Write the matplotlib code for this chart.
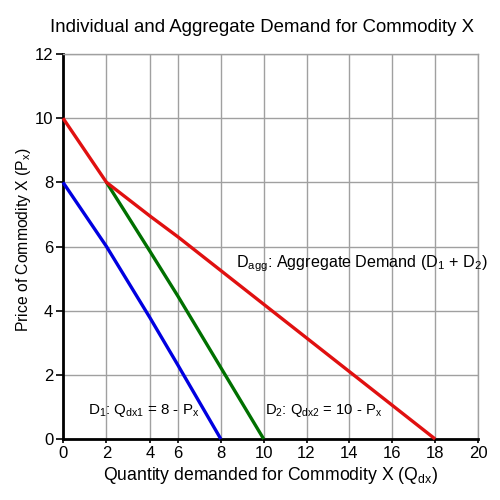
import numpy as np
import matplotlib
matplotlib.use("Agg")
import matplotlib.pyplot as plt

plt.rcParams['font.family'] = ['Liberation Sans', 'DejaVu Sans']
plt.rcParams['mathtext.default'] = 'regular'

# Data
q_d1 = [0, 2, 4, 6, 8]
p_d1 = [8, 6, 3.78, 2.3, 0]
q_d2 = [2, 4, 6, 10]
p_d2 = [8, 5.85, 4.45, 0]
q_agg = [0, 2, 4, 6, 18]
p_agg = [10, 8, 6.95, 6.3, 0]

x_ticks = [0, 2, 4, 6, 8, 10, 12, 14, 16, 18, 20]
y_ticks = [0, 2, 4, 6, 8, 10, 12]

# the original axis is not evenly spaced between 4 and 6
_xk = [0, 4, 6, 20]
_xp = [0, 4.19, 5.54, 20]
def fwd(x):
    return np.interp(x, _xk, _xp)
def inv(x):
    return np.interp(x, _xp, _xk)

fig = plt.figure(figsize=(5, 5), dpi=100)
ax = fig.add_axes([0.126, 0.122, 0.830, 0.770])
ax.set_xscale('function', functions=(fwd, inv))
ax.set_xlim(0, 20)
ax.set_ylim(0, 12)
ax.set_xticks(x_ticks)
ax.set_yticks(y_ticks)
ax.set_xticklabels([str(t) for t in x_ticks])
ax.set_yticklabels([str(t) for t in y_ticks])
ax.grid(True, color='#a0a0a0', linewidth=1.0)
ax.set_axisbelow(True)
for s in ['top', 'right']:
    ax.spines[s].set_color('#a0a0a0')
    ax.spines[s].set_linewidth(1.0)
for s in ['left', 'bottom']:
    ax.spines[s].set_color('black')
    ax.spines[s].set_linewidth(2.0)
ax.tick_params(axis='y', labelsize=12, length=5, width=1.2, color='black', pad=2)
ax.tick_params(axis='x', labelsize=12, length=3, width=1.2, color='black', pad=2)

ax.plot(q_d1, p_d1, color='#0000e0', linewidth=2.4, solid_capstyle='butt', clip_on=False, zorder=3)
ax.plot(q_d2, p_d2, color='#007000', linewidth=2.4, solid_capstyle='butt', clip_on=False, zorder=3)
ax.plot(q_agg, p_agg, color='#e01010', linewidth=2.4, solid_capstyle='butt', clip_on=False, zorder=4)

ax.text(0.417, 0.455, 'D$_{agg}$: Aggregate Demand (D$_1$ + D$_2$)', transform=ax.transAxes,
        ha='left', va='center', fontsize=11.6)
ax.text(0.060, 0.073, 'D$_1$: Q$_{dx1}$ = 8 - P$_x$', transform=ax.transAxes,
        ha='left', va='center', fontsize=10.9)
ax.text(0.486, 0.073, 'D$_2$: Q$_{dx2}$ = 10 - P$_x$', transform=ax.transAxes,
        ha='left', va='center', fontsize=10.6)

ax.set_xlabel('Quantity demanded for Commodity X (Q$_{dx}$)', fontsize=12.7, labelpad=3)
ax.set_ylabel('Price of Commodity X (P$_x$)', fontsize=11.3)
ax.yaxis.set_label_coords(-0.072, 0.517)
fig.text(0.525, 0.945, 'Individual and Aggregate Demand for Commodity X', ha='center', va='center', fontsize=13.4)

fig.savefig('out.png', dpi=100, facecolor='white')
